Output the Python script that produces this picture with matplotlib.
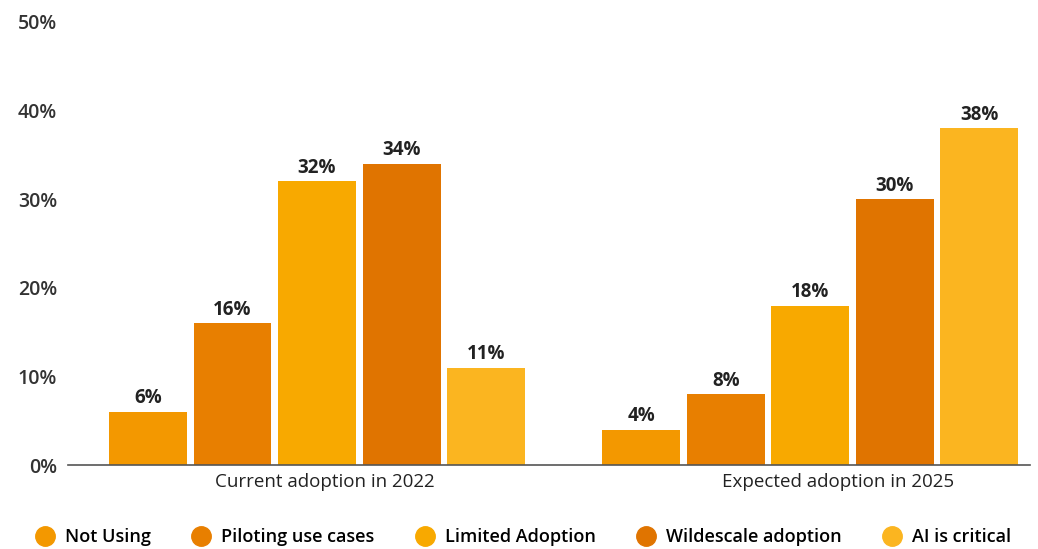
import numpy as np
from matplotlib import pyplot as plt
from matplotlib.lines import Line2D

plt.rcParams['font.family'] = ['Open Sans', 'DejaVu Sans']

groups = ['Current adoption in 2022', 'Expected adoption in 2025']
series = ['Not Using', 'Piloting use cases', 'Limited Adoption',
          'Wildescale adoption', 'AI is critical']
values = [
    [6, 4],
    [16, 8],
    [32, 18],
    [34, 30],
    [11, 38],
]
colors = ['#F39800', '#E87F00', '#F8A900', '#E07400', '#FBB520']

fig = plt.figure(figsize=(10.38, 5.49), dpi=100)
ax = fig.add_axes([0.0655, 0.153, 0.927, 0.807])

x = np.arange(len(groups))
step = 0.1714
width = 0.158
for i, (name, vals) in enumerate(zip(series, values)):
    pos = x + (i - 2) * step
    bars = ax.bar(pos, vals, width, color=colors[i], label=name, zorder=2)
    for b, v in zip(bars, vals):
        ax.text(b.get_x() + b.get_width() / 2, v + 0.4, f'{v}%',
                ha='center', va='bottom', fontsize=13.5, fontweight='bold',
                color='#222222')

ax.set_xlim(-0.505, 1.446)
ax.set_ylim(0, 50)
ax.set_yticks([0, 10, 20, 30, 40, 50])
ax.set_yticklabels([f'{t}%' for t in [0, 10, 20, 30, 40, 50]],
                   fontsize=14, fontweight='semibold', color='#333333')
ax.set_xticks(x + np.array([0.015, 0.057]))
ax.set_xticklabels(groups, fontsize=13.5, fontweight='medium', color='#222222')
ax.tick_params(axis='y', length=0, pad=8)
ax.tick_params(axis='x', length=0, pad=6)
for s in ['top', 'right', 'left']:
    ax.spines[s].set_visible(False)
ax.spines['bottom'].set_color('#555555')
ax.spines['bottom'].set_linewidth(1.2)

handles = [Line2D([0], [0], marker='o', linestyle='', markersize=14,
                  markerfacecolor=c, markeredgecolor=c) for c in colors]
fig.legend(handles, series, loc='center', bbox_to_anchor=(0.5, 0.022),
           ncol=5, frameon=False, handletextpad=0.1,
           columnspacing=1.8, prop={'size': 13, 'weight': 'semibold'})

plt.savefig('out.png', dpi=100)
